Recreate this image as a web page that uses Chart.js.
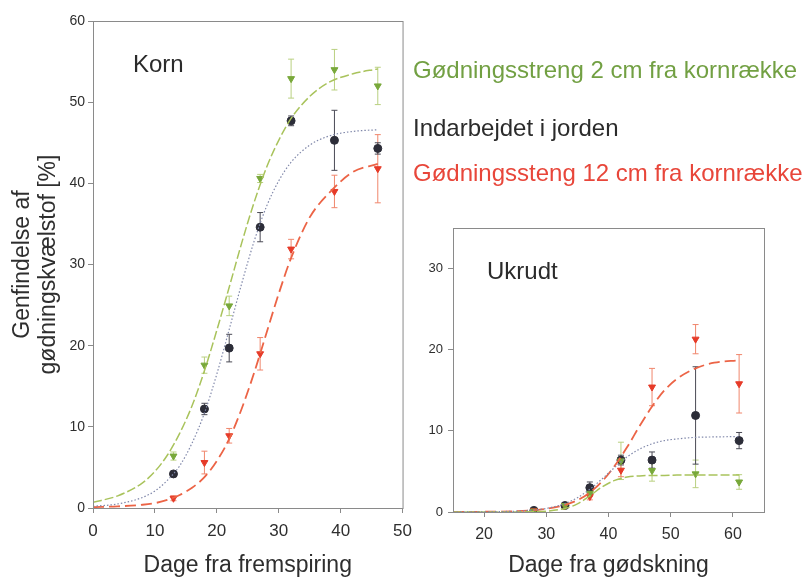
<!DOCTYPE html>
<html>
<head>
<meta charset="utf-8">
<script src="https://cdn.jsdelivr.net/npm/chart.js@4.4.1/dist/chart.umd.min.js"></script>
<style>
  html, body { margin: 0; padding: 0; background: #fff; }
  #wrap { position: relative; width: 806px; height: 583px; font-family: 'Liberation Sans', Arial, sans-serif; }
  .box { position: absolute; top: 0; height: 583px; }
  .txt { position: absolute; white-space: nowrap; line-height: 1; }
</style>
</head>
<body>
<div id="wrap">
  <div class="box" style="left:0;width:420px"><canvas id="korn"></canvas></div>
  <div class="box" style="left:420px;width:386px"><canvas id="ukrudt"></canvas></div>
  <div class="txt" style="left:133px;top:52px;font-size:24px;color:#2b2b2b">Korn</div>
  <div class="txt" style="left:487px;top:259px;font-size:24px;color:#2b2b2b">Ukrudt</div>
  <div class="txt" style="left:413px;top:58px;font-size:24px;color:#72a043">Gødningsstreng 2 cm fra kornrække</div>
  <div class="txt" style="left:413px;top:116px;font-size:24px;color:#2b2b2b">Indarbejdet i jorden</div>
  <div class="txt" style="left:413px;top:161px;font-size:24px;color:#e8463a">Gødningssteng 12 cm fra kornrække</div>
</div>
<script>
'use strict';

// ── DATA ─────────────────────────────────────────────────────

// Korn: measured points
const KORN_DAYS   = [13, 18, 22, 27, 32, 39, 46];
const KORN_GREEN  = [6.4, 17.6, 24.9, 40.6, 52.9, 54.0, 52.0];
const KORN_GREEN_ERR = [0.5, 1.0, 1.2, 0.5, 2.4, 2.5, 2.3];
const KORN_BLACK  = [4.2, 12.2, 19.7, 34.6, 47.7, 45.3, 44.3];
const KORN_BLACK_ERR = [0.3, 0.7, 1.7, 1.8, 0.6, 3.7, 0.7];
const KORN_RED    = [1.2, 5.6, 8.9, 19.0, 31.9, 39.0, 41.8];
const KORN_RED_ERR = [0.3, 1.4, 0.9, 2.0, 1.2, 2.0, 4.2];

// Korn: fitted curves
const KORN_CURVE_X     = [0, 4, 8, 10, 12, 14, 16, 18, 20, 22, 24, 26, 28, 30, 32, 35, 38, 42, 46];
const KORN_CURVE_GREEN = [0.7, 1.5, 3.1, 4.5, 6.5, 9.2, 12.6, 16.9, 21.9, 27.2, 32.6, 37.6, 41.9, 45.3, 48.0, 50.7, 52.4, 53.5, 54.1];
const KORN_CURVE_BLACK = [0.2, 0.5, 1.3, 2.1, 3.4, 5.2, 8.0, 11.7, 16.5, 22.0, 27.6, 32.8, 37.1, 40.3, 42.6, 44.7, 45.8, 46.4, 46.6];
const KORN_CURVE_RED   = [0.1, 0.2, 0.4, 0.6, 1.0, 1.6, 2.5, 3.8, 5.8, 8.5, 12.2, 16.6, 21.5, 26.4, 30.8, 35.8, 38.7, 41.4, 42.4];

// Ukrudt: measured points
const UKR_DAYS   = [28, 33, 37, 42, 47, 54, 61];
const UKR_GREEN  = [0.1, 0.8, 2.3, 6.3, 5.1, 4.7, 3.7];
const UKR_GREEN_ERR = [0.1, 0.2, 0.4, 2.3, 1.3, 1.7, 0.9];
const UKR_BLACK  = [0.2, 0.8, 3.0, 6.4, 6.4, 11.9, 8.8];
const UKR_BLACK_ERR = [0.1, 0.2, 0.7, 0.6, 1.0, 6.0, 1.0];
const UKR_RED    = [0.15, 0.8, 1.9, 5.15, 15.4, 21.3, 15.8];
const UKR_RED_ERR = [0.1, 0.2, 0.4, 0.8, 2.3, 1.8, 3.6];

// Ukrudt: fitted curves
const UKR_CURVE_X     = [15, 20, 25, 28, 30, 33, 35, 37, 39, 41, 43, 45, 47, 49, 51, 54, 57, 61];
const UKR_CURVE_GREEN = [0.0, 0.0, 0.01, 0.04, 0.1, 0.44, 1.0, 2.0, 3.1, 3.9, 4.3, 4.45, 4.5, 4.5, 4.55, 4.55, 4.55, 4.55];
const UKR_CURVE_BLACK = [0.0, 0.02, 0.1, 0.25, 0.44, 1.04, 1.76, 2.8, 4.1, 5.5, 6.8, 7.75, 8.4, 8.8, 9.0, 9.2, 9.25, 9.3];
const UKR_CURVE_RED   = [0.0, 0.03, 0.1, 0.23, 0.39, 0.87, 1.45, 2.4, 3.8, 5.7, 8.0, 10.6, 13.0, 15.0, 16.4, 17.7, 18.4, 18.7];

// Tick labels
const KORN_X_TICKS = [0, 10, 20, 30, 40, 50];
const KORN_Y_TICKS = [0, 10, 20, 30, 40, 50, 60];
const UKR_X_TICKS  = [20, 30, 40, 50, 60];
const UKR_Y_TICKS  = [0, 10, 20, 30];

// ── STYLE ────────────────────────────────────────────────────

const FONT = 'Liberation Sans';
const AXIS_COLOR = '#8a8a8a';
const TEXT_COLOR = '#2e2e2e';

const GREEN = { mark: '#78a83a', line: '#a9c35c', err: '#b9d080' };
const BLACK = { mark: '#2c2d38', line: '#8088aa', err: '#4a4a55' };
const RED   = { mark: '#e63a28', line: '#ec6446', err: '#f0866c' };

const pts = (xs, ys) => xs.map((x, i) => ({ x, y: ys[i] }));

function curve(xs, ys, c, dash, width) {
  return {
    data: pts(xs, ys),
    showLine: true,
    borderColor: c.line,
    borderWidth: width,
    borderDash: dash,
    pointRadius: 0,
    cubicInterpolationMode: 'monotone',
    fill: false,
  };
}

function marks(xs, ys, errs, c, style) {
  return {
    data: pts(xs, ys),
    errors: errs,
    errColor: c.err,
    showLine: false,
    pointStyle: style,
    rotation: style === 'triangle' ? 180 : 0,
    pointRadius: 4,
    backgroundColor: c.mark,
    borderColor: c.mark,
    borderWidth: 1,
  };
}

// ── PLUGINS ──────────────────────────────────────────────────

const errorBars = {
  id: 'errorBars',
  beforeDatasetsDraw(chart) {
    const { ctx, scales: { x, y } } = chart;
    ctx.save();
    ctx.lineWidth = 1;
    chart.data.datasets.forEach(ds => {
      if (!ds.errors) return;
      ctx.strokeStyle = ds.errColor;
      ds.data.forEach((p, i) => {
        const px = x.getPixelForValue(p.x);
        const y1 = y.getPixelForValue(p.y - ds.errors[i]);
        const y2 = y.getPixelForValue(p.y + ds.errors[i]);
        ctx.beginPath();
        ctx.moveTo(px, y1); ctx.lineTo(px, y2);
        ctx.moveTo(px - 3, y1); ctx.lineTo(px + 3, y1);
        ctx.moveTo(px - 3, y2); ctx.lineTo(px + 3, y2);
        ctx.stroke();
      });
    });
    ctx.restore();
  },
};

const frame = {
  id: 'frame',
  afterDraw(chart) {
    const { ctx, chartArea: a } = chart;
    ctx.save();
    ctx.strokeStyle = AXIS_COLOR;
    ctx.lineWidth = 1;
    ctx.strokeRect(a.left + 0.5, a.top + 0.5, a.right - a.left, a.bottom - a.top);
    ctx.restore();
  },
};

function axis(min, max, ticks, o) {
  return {
    type: 'linear',
    min, max,
    afterBuildTicks: s => { s.ticks = ticks.map(v => ({ value: v })); },
    afterFit: s => { if (o.width) s.width = o.width; if (o.height) s.height = o.height; },
    grid: { drawOnChartArea: false, drawTicks: true, tickLength: 5, color: AXIS_COLOR },
    border: { display: true, color: AXIS_COLOR },
    ticks: { color: TEXT_COLOR, font: { family: FONT, size: o.size }, padding: o.pad, maxRotation: 0 },
    title: o.title ? {
      display: true,
      text: o.title,
      color: TEXT_COLOR,
      font: { family: FONT, size: 23, lineHeight: 1.15 },
      padding: o.titlePad,
    } : { display: false },
  };
}

function makeChart(id, datasets, xAxis, yAxis, padding) {
  return new Chart(document.getElementById(id), {
    type: 'scatter',
    data: { datasets },
    options: {
      responsive: true,
      maintainAspectRatio: false,
      animation: false,
      layout: { padding },
      plugins: { legend: { display: false }, tooltip: { enabled: false } },
      scales: { x: xAxis, y: yAxis },
    },
    plugins: [errorBars, frame],
  });
}

// ── KORN ─────────────────────────────────────────────────────

makeChart('korn', [
  curve(KORN_CURVE_X, KORN_CURVE_BLACK, BLACK, [1.5, 2], 1.2),
  curve(KORN_CURVE_X, KORN_CURVE_GREEN, GREEN, [9, 3], 1.5),
  curve(KORN_CURVE_X, KORN_CURVE_RED, RED, [11, 5], 1.8),
  marks(KORN_DAYS, KORN_RED, KORN_RED_ERR, RED, 'triangle'),
  marks(KORN_DAYS, KORN_GREEN, KORN_GREEN_ERR, GREEN, 'triangle'),
  marks(KORN_DAYS, KORN_BLACK, KORN_BLACK_ERR, BLACK, 'circle'),
],
  axis(0, 50, KORN_X_TICKS, { height: 75, size: 17, pad: 8, title: 'Dage fra fremspiring', titlePad: { bottom: 4 } }),
  axis(0, 60, KORN_Y_TICKS, { width: 93, size: 14, pad: 3, title: ['Genfindelse af', 'gødningskvælstof [%]'], titlePad: { top: 9 } }),
  { top: 21, right: 12, left: 0, bottom: 0 });

// ── UKRUDT ───────────────────────────────────────────────────

makeChart('ukrudt', [
  curve(UKR_CURVE_X, UKR_CURVE_BLACK, BLACK, [1.5, 2], 1.2),
  curve(UKR_CURVE_X, UKR_CURVE_GREEN, GREEN, [9, 3], 1.5),
  curve(UKR_CURVE_X, UKR_CURVE_RED, RED, [11, 5], 1.8),
  marks(UKR_DAYS, UKR_GREEN, UKR_GREEN_ERR, GREEN, 'triangle'),
  marks(UKR_DAYS, UKR_RED, UKR_RED_ERR, RED, 'triangle'),
  marks(UKR_DAYS, UKR_BLACK, UKR_BLACK_ERR, BLACK, 'circle'),
],
  axis(15, 65, UKR_X_TICKS, { height: 71, size: 16, pad: 8, title: 'Dage fra gødskning', titlePad: { bottom: 4 } }),
  axis(0, 35, UKR_Y_TICKS, { width: 33, size: 13, pad: 5 }),
  { top: 228, right: 42, left: 0, bottom: 0 });
</script>
</body>
</html>
